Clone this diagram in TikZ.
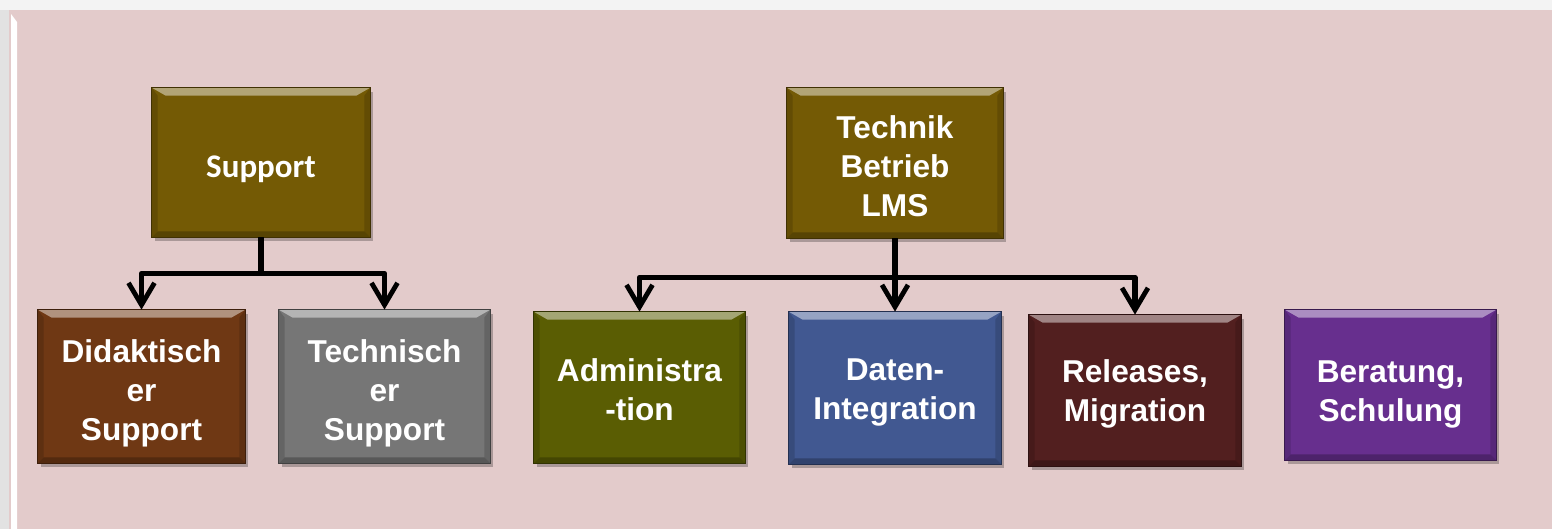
\documentclass[tikz,border=0pt]{standalone}
\usepackage{fontspec}
\setmainfont{Liberation Sans}
\newfontfamily\calibfont{Carlito}
\usetikzlibrary{arrows.meta,shadows}
\definecolor{bgpink}{HTML}{E3CBCB}
\definecolor{bggray}{HTML}{F3F3F3}
\definecolor{bgside}{HTML}{E2E2E2}
\definecolor{csup}{HTML}{745A05}
\definecolor{cdid}{HTML}{6F3814}
\definecolor{ctsu}{HTML}{767676}
\definecolor{cadm}{HTML}{5A5D03}
\definecolor{cdat}{HTML}{415891}
\definecolor{crel}{HTML}{521F1F}
\definecolor{cber}{HTML}{672F8E}
\newcommand{\lowr}[1]{\rule{0pt}{#1}}
\newcommand{\bevelbox}[2]{%
  \fill[#2!55!white] (#1.north west) -- (#1.north east) -- ([xshift=-7pt,yshift=-4pt]#1.north east) -- ([xshift=7pt,yshift=-4pt]#1.north west) -- cycle;
  \fill[#2!85!black] (#1.north west) -- ([xshift=3pt,yshift=-4pt]#1.north west) -- ([xshift=3pt,yshift=3pt]#1.south west) -- (#1.south west) -- cycle;
  \fill[#2!85!black] (#1.north east) -- ([xshift=-3pt,yshift=-4pt]#1.north east) -- ([xshift=-3pt,yshift=3pt]#1.south east) -- (#1.south east) -- cycle;
  \fill[#2!75!black] (#1.south west) -- (#1.south east) -- ([xshift=-3pt,yshift=3pt]#1.south east) -- ([xshift=3pt,yshift=3pt]#1.south west) -- cycle;
  \draw[#2!55!black, line width=0.6pt] (#1.north west) rectangle (#1.south east);
}
\tikzset{
  orgbox/.style={fill=#1, inner sep=0pt, align=center, text=white,
    font=\bfseries\fontsize{15.8}{19.5}\selectfont,
    drop shadow={shadow xshift=1.5pt, shadow yshift=-2pt, opacity=0.25, fill=black}},
  conn/.style={line width=2.6pt, black, line join=round,
    -{Straight Barb[length=11pt, width=13pt, line width=2.4pt]}}
}
\begin{document}
\begin{tikzpicture}[x=0.5pt, y=-0.5pt]
\useasboundingbox (0,0) rectangle (1552,529);
% background
\fill[bggray] (0,0) rectangle (1552,529);
\fill[bgside] (0,10) rectangle (10,529);
\fill[bgpink] (9,10) rectangle (1552,529);
\fill[white] (11,14) -- (17,22) -- (17,529) -- (11,529) -- cycle;
% boxes
\node[orgbox=csup, minimum width=109pt, minimum height=74.5pt, font=\calibfont\bfseries\fontsize{16.5}{19.5}\selectfont] (sup) at (261,162.5) {\lowr{17.6pt}Support};
\node[orgbox=csup, minimum width=108pt, minimum height=75pt] (tec) at (895,163) {\lowr{14.5pt}Technik\\Betrieb\\LMS};
\node[orgbox=cdid, minimum width=103.5pt, minimum height=76.5pt] (did) at (141.5,386.5) {\lowr{18.5pt}Didaktisch\\er\\Support};
\node[orgbox=ctsu, minimum width=105.5pt, minimum height=76.5pt] (tsu) at (384.5,386.5) {\lowr{18.5pt}Technisch\\er\\Support};
\node[orgbox=cadm, minimum width=105.5pt, minimum height=75.5pt] (adm) at (639.5,387.5) {\lowr{13.5pt}Administra\\-tion};
\node[orgbox=cdat, minimum width=106pt, minimum height=76pt] (dat) at (895,388) {\lowr{15.5pt}Daten-\\Integration};
\node[orgbox=crel, minimum width=106pt, minimum height=75.5pt] (rel) at (1135,390.5) {\lowr{14.5pt}Releases,\\Migration};
\node[orgbox=cber, minimum width=105.5pt, minimum height=75pt] (ber) at (1390.5,385) {\lowr{20.5pt}Beratung,\\Schulung};
% bevels
\bevelbox{sup}{csup}
\bevelbox{tec}{csup}
\bevelbox{did}{cdid}
\bevelbox{tsu}{ctsu}
\bevelbox{adm}{cadm}
\bevelbox{dat}{cdat}
\bevelbox{rel}{crel}
\bevelbox{ber}{cber}
% connectors
\draw[conn] (sup.south) -- ++(0,-18pt) -| (did.north);
\draw[conn] (sup.south) -- ++(0,-18pt) -| (tsu.north);
\draw[conn] (tec.south) -- ++(0,-19.5pt) -| (adm.north);
\draw[conn] (tec.south) -- (dat.north);
\draw[conn] (tec.south) -- ++(0,-19.5pt) -| (rel.north);
\end{tikzpicture}
\end{document}
